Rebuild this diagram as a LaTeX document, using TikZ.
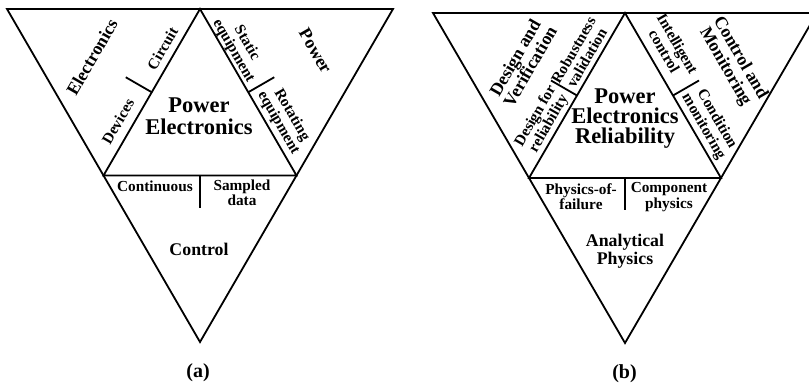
\documentclass[tikz,border=0pt]{standalone}
\usepackage{fontspec}
\setmainfont{Liberation Serif}
\usetikzlibrary{calc}
\tikzset{
  edge/.style={line width=1.8pt, line join=miter},
  tickline/.style={line width=1.8pt},
  big/.style={font=\fontsize{22.5}{21.5}\selectfont\bfseries, align=center, inner sep=0pt},
  bigb/.style={font=\fontsize{22.5}{20}\selectfont\bfseries, align=center, inner sep=0pt},
  cat/.style={font=\fontsize{17.8}{17.5}\selectfont\bfseries, align=center, inner sep=0pt},
  sub/.style={font=\fontsize{15.3}{15.3}\selectfont\bfseries, align=center, inner sep=0pt},
  figlabel/.style={font=\fontsize{20}{20}\selectfont\bfseries, inner sep=0pt},
}
\begin{document}
\begin{tikzpicture}[x=1pt,y=-1pt]
\useasboundingbox (0,0) rectangle (809,385);
\clip (0,0) rectangle (809,385);
\fill[white] (0,0) rectangle (809,385);
% ---------- (a) ----------
\coordinate (aTL) at (7,9);
\coordinate (aTR) at (393,9);
\coordinate (aB) at (200,342);
\coordinate (aM) at (200,9);
\coordinate (aL) at (103.5,175.5);
\coordinate (aR) at (296.5,175.5);
\draw[edge] (aTL) -- (aTR) -- (aB) -- cycle;
\draw[edge] (aM) -- (aL) -- (aR) -- cycle;
\coordinate (aT1s) at (151.75,92.25);
\coordinate (aT1e) at (125.75,77.25);
\coordinate (aT2s) at (248.25,92.25);
\coordinate (aT2e) at (274.25,77.25);
\coordinate (aT3s) at (200,175.5);
\coordinate (aT3e) at (200,208);
\draw[tickline] (aT1s) -- (aT1e);
\draw[tickline] (aT2s) -- (aT2e);
\draw[tickline] (aT3s) -- (aT3e);
\node[cat, rotate=60] (aElec) at (92,57) {Electronics};
\node[sub, rotate=60] (aCirc) at (162.5,48.5) {Circuit};
\node[sub, rotate=60] (aDev) at (118,121.5) {Devices};
\node[big] (aPE) at (199,116) {Power\\Electronics};
\node[sub, rotate=-60] (aStat) at (240,47) {Static\\equipment};
\node[cat, rotate=-60] (aPow) at (315.5,51) {Power};
\node[sub, rotate=-60] (aRot) at (285,119) {Rotating\\equipment};
\node[sub] (aCont) at (155,186) {Continuous};
\node[sub] (aSamp) at (242,193) {Sampled\\data};
\node[cat] (aCtrl) at (199,249.5) {Control};
\node[figlabel] (aCap) at (198,373) {(a)};
% ---------- (b) ----------
\coordinate (bTL) at (433,13);
\coordinate (bTR) at (817,13);
\coordinate (bB) at (625,343);
\coordinate (bM) at (625,13);
\coordinate (bL) at (529,178);
\coordinate (bR) at (721,178);
\draw[edge] (bTL) -- (bTR) -- (bB) -- cycle;
\draw[edge] (bM) -- (bL) -- (bR) -- cycle;
\coordinate (bT1s) at (577,95.5);
\coordinate (bT1e) at (551,80.5);
\coordinate (bT2s) at (673,95.5);
\coordinate (bT2e) at (699,80.5);
\coordinate (bT3s) at (625,178);
\coordinate (bT3e) at (625,210);
\draw[tickline] (bT1s) -- (bT1e);
\draw[tickline] (bT2s) -- (bT2e);
\draw[tickline] (bT3s) -- (bT3e);
\node[cat, rotate=60] (bDV) at (522.5,62) {Design and\\Verification};
\node[sub, rotate=60] (bRob) at (580,54) {Robustness\\validation};
\node[sub, rotate=60] (bDfR) at (542.5,120) {Design for\\reliability};
\node[bigb] (bPER) at (625,119) {Power\\Electronics\\Reliability};
\node[sub, rotate=-60] (bInt) at (671,47.5) {Intelligent\\control};
\node[cat, rotate=-60] (bCM) at (732.5,62.5) {Control and\\Monitoring};
\node[sub, rotate=-60] (bCond) at (710,123) {Condition\\monitoring};
\node[sub] (bPoF) at (581,197) {Physics-of-\\failure};
\node[sub] (bComp) at (669,197) {Component\\physics};
\node[cat] (bAP) at (625,251) {Analytical\\Physics};
\node[figlabel] (bCap) at (624.5,374) {(b)};
\end{tikzpicture}
\end{document}
